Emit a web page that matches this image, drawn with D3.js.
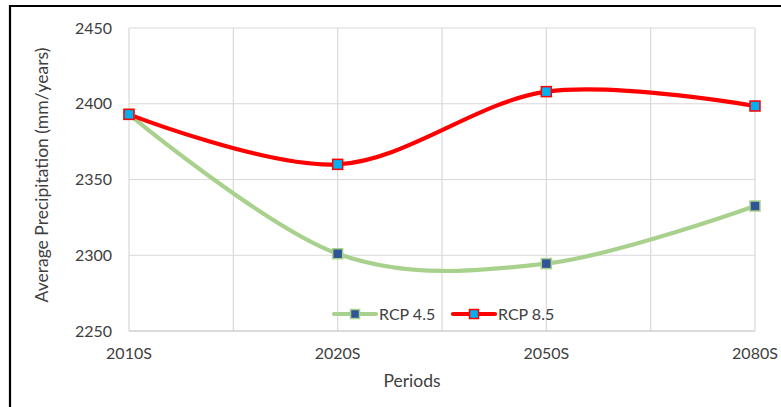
<!DOCTYPE html>
<html>
<head>
<meta charset="utf-8">
<script src="https://cdn.jsdelivr.net/npm/d3@7"></script>
<style>
  html, body { margin: 0; padding: 0; background: #fff; }
  svg { display: block; font-family: Lato, "Open Sans", sans-serif; }
</style>
</head>
<body>
<svg id="chart" width="781" height="407"></svg>
<script>
// Periods on the x axis
const periods = ["2010S", "2020S", "2050S", "2080S"];
// Average precipitation (mm/years) per scenario
const rcp45 = [2393, 2301, 2294.5, 2332.5];
const rcp85 = [2393, 2360, 2408, 2398.5];
// Value axis ticks
const yTicks = [2250, 2300, 2350, 2400, 2450];

(function () {
const svg = d3.select("#chart");
const W = 781, H = 407;
const plotL = 129, plotR = 755, plotT = 28, plotB = 331;

// Outer frame (left and top edges visible)
svg.append("path")
  .attr("d", `M10,${H} L10,6 L${W},6`)
  .attr("fill", "none").attr("stroke", "#000").attr("stroke-width", 2.2);

const x = d3.scalePoint().domain(periods).range([plotL, plotR]);
const y = d3.scaleLinear().domain([2250, 2450]).range([plotB, plotT]);

// Vertical gridlines at each period and half-way between them
const step = x.step();
const vLines = d3.range(0, (periods.length - 1) * 2 + 1).map(i => plotL + i * step / 2);
svg.append("g").selectAll("line").data(vLines).join("line")
  .attr("x1", d => d).attr("x2", d => d)
  .attr("y1", plotT).attr("y2", plotB)
  .attr("stroke", "#d9d9d9").attr("stroke-width", 1.2);

// Horizontal gridlines
svg.append("g").selectAll("line").data(yTicks).join("line")
  .attr("x1", plotL).attr("x2", plotR)
  .attr("y1", d => y(d)).attr("y2", d => y(d))
  .attr("stroke", d => d === 2250 ? "#cfcfcf" : "#d9d9d9")
  .attr("stroke-width", d => d === 2250 ? 1.6 : 1.2);

// Y tick labels
svg.append("g").selectAll("text").data(yTicks).join("text")
  .attr("x", 112).attr("y", d => y(d))
  .attr("dy", "0.35em")
  .attr("text-anchor", "end")
  .attr("font-size", 16).attr("fill", "#404040")
  .text(d => d);

// X tick labels
svg.append("g").selectAll("text").data(periods).join("text")
  .attr("x", d => x(d)).attr("y", 359)
  .attr("text-anchor", "middle")
  .attr("font-size", 16).attr("fill", "#404040")
  .text(d => d);

// Axis titles
svg.append("text")
  .attr("x", 412).attr("y", 387)
  .attr("text-anchor", "middle")
  .attr("font-size", 17.5).attr("fill", "#404040")
  .text("Periods");
svg.append("text")
  .attr("transform", "translate(48,175) rotate(-90)")
  .attr("text-anchor", "middle")
  .attr("font-size", 17.5).attr("fill", "#404040")
  .text("Average Precipitation (mm/years)");

const series = [
  { name: "RCP 4.5", values: rcp45, line: "#a9d18e", fill: "#2f5597", edge: "#a9d18e" },
  { name: "RCP 8.5", values: rcp85, line: "#ff0000", fill: "#00b0f0", edge: "#ff0000" }
];

const lineGen = d3.line()
  .x((d, i) => x(periods[i]))
  .y(d => y(d))
  .curve(d3.curveCatmullRom.alpha(0));

series.forEach(s => {
  svg.append("path")
    .datum(s.values)
    .attr("d", lineGen)
    .attr("fill", "none")
    .attr("stroke", s.line)
    .attr("stroke-width", 4.2)
    .attr("stroke-linejoin", "round")
    .attr("stroke-linecap", "round");
});
series.forEach(s => {
  svg.append("g").selectAll("rect").data(s.values).join("rect")
    .attr("x", (d, i) => x(periods[i]) - 5)
    .attr("y", d => y(d) - 5)
    .attr("width", 10).attr("height", 10)
    .attr("fill", s.fill)
    .attr("stroke", s.edge).attr("stroke-width", 1.5);
});

// Legend
const legendItems = [
  { s: series[0], x0: 334 },
  { s: series[1], x0: 453 }
];
const ly = 314;
legendItems.forEach(({ s, x0 }) => {
  const g = svg.append("g");
  g.append("line")
    .attr("x1", x0).attr("x2", x0 + 42)
    .attr("y1", ly).attr("y2", ly)
    .attr("stroke", s.line).attr("stroke-width", 4.2)
    .attr("stroke-linecap", "round");
  g.append("rect")
    .attr("x", x0 + 21 - 4.5).attr("y", ly - 4.5)
    .attr("width", 9).attr("height", 9)
    .attr("fill", s.fill)
    .attr("stroke", s.edge).attr("stroke-width", 1.5);
  g.append("text")
    .attr("x", x0 + 45).attr("y", ly)
    .attr("dy", "0.35em")
    .attr("font-size", 16).attr("fill", "#404040")
    .text(s.name);
});
})();
</script>
</body>
</html>
